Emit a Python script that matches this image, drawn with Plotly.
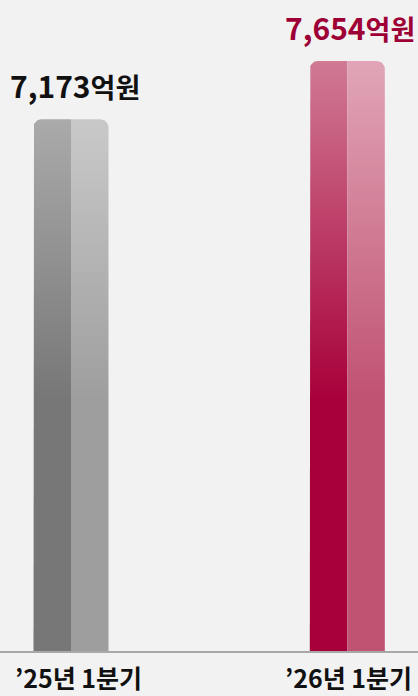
import numpy as np
import plotly.graph_objects as go

# ---- data ----
categories = ["’25년 1분기", "’26년 1분기"]
values = [7173, 7654]
value_labels = ["7,173", "7,654"]
unit_label = "억원"

# ---- styles ----
left_colors = [("#777777", "#aaaaaa"), ("#a8003a", "#d07a94")]    # (bottom, top)
right_colors = [("#9e9e9e", "#c9c9c9"), ("#c05272", "#e1a5b7")]
label_colors = ["#111111", "#9e0036"]
BG = "#f2f2f2"
FONT = "Noto Sans CJK KR, Noto Sans, sans-serif"

W, H = 418, 696
M_B = 45
Y_MIN, Y_MAX = 2786, 8157
X_MIN, X_MAX = -0.257, 1.2558
HALF = 0.1357
GRAD_END = 4860
R_PX = 8

px_x = W / (X_MAX - X_MIN)
px_y = (H - M_B) / (Y_MAX - Y_MIN)
rx, ry = R_PX / px_x, R_PX / px_y
t = np.linspace(0, np.pi / 2, 10)

fig = go.Figure()
for i, v in enumerate(values):
    xc = i
    # left half with rounded top-left corner
    cx, cy = xc - HALF + rx, v - ry
    ax = cx - rx * np.cos(t)
    ay = cy + ry * np.sin(t)
    xs = [xc - HALF] + list(ax) + [xc, xc, xc - HALF]
    ys = [Y_MIN] + list(ay) + [v, Y_MIN, Y_MIN]
    fig.add_trace(go.Scatter(
        x=xs, y=ys, mode="lines", fill="toself", line=dict(width=0),
        fillgradient=dict(type="vertical",
                          colorscale=[[0, left_colors[i][0]], [1, left_colors[i][1]]],
                          start=GRAD_END, stop=v),
        hoverinfo="skip", showlegend=False))
    # right half with rounded top-right corner
    cx, cy = xc + HALF - rx, v - ry
    bx = cx + rx * np.sin(t)
    by = cy + ry * np.cos(t)
    xs = [xc, xc] + list(bx) + [xc + HALF, xc]
    ys = [Y_MIN, v] + list(by) + [Y_MIN, Y_MIN]
    fig.add_trace(go.Scatter(
        x=xs, y=ys, mode="lines", fill="toself", line=dict(width=0),
        fillgradient=dict(type="vertical",
                          colorscale=[[0, right_colors[i][0]], [1, right_colors[i][1]]],
                          start=GRAD_END, stop=v),
        hoverinfo="skip", showlegend=False))

label_dx = [4, 3]
for i, v in enumerate(values):
    fig.add_annotation(
        x=i, y=v, xref="x", yref="y", yanchor="bottom", yshift=10, xshift=label_dx[i],
        text=f"{value_labels[i]}<span style='font-size:27px'>{unit_label}</span>",
        showarrow=False,
        font=dict(family=FONT, size=30, color=label_colors[i], weight="bold"))

cat_dx = [7, 1]
for i, c in enumerate(categories):
    fig.add_annotation(
        x=i, y=0, xref="x", yref="paper", yanchor="top", yshift=-6, xshift=cat_dx[i],
        text=c, showarrow=False,
        font=dict(family=FONT, size=25, color="#111111", weight="bold"))

fig.update_layout(
    width=W, height=H,
    margin=dict(l=0, r=0, t=0, b=M_B),
    paper_bgcolor=BG, plot_bgcolor=BG,
    xaxis=dict(range=[X_MIN, X_MAX], showticklabels=False,
               showgrid=False, zeroline=False, showline=True,
               linecolor="#a8a8a8", linewidth=2, ticks=""),
    yaxis=dict(range=[Y_MIN, Y_MAX], visible=False),
)

fig.write_html("out.html", config={"displayModeBar": False},
               post_script="document.body.style.margin='0';document.body.style.overflow='hidden';")
